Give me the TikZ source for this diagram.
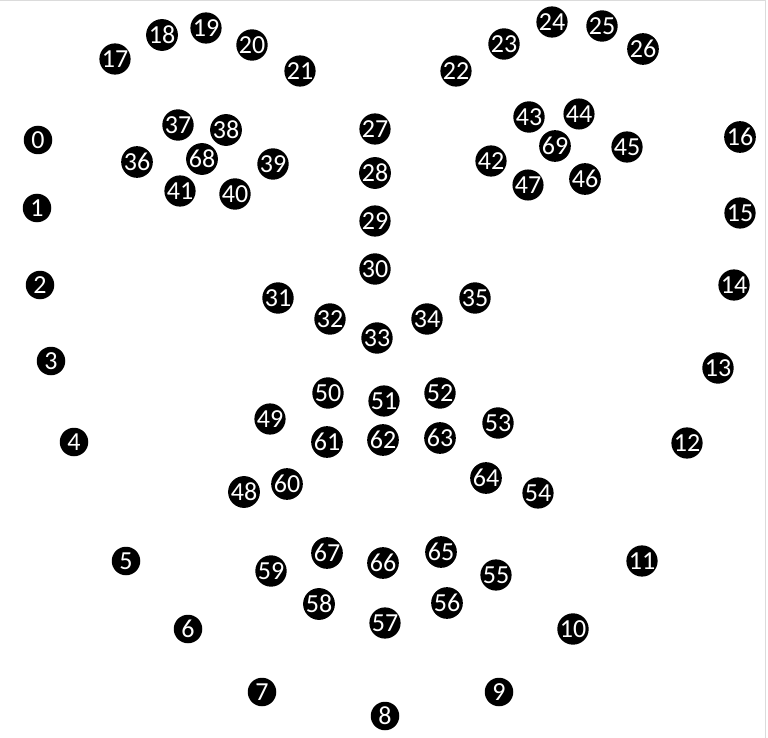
\documentclass[tikz,border=0pt]{standalone}
\usepackage{fontspec}
\setmainfont{Carlito}
\newcommand{\lmfont}{\fontsize{26}{26}\selectfont}
\begin{document}
\begin{tikzpicture}[x=1pt,y=-1pt,
  lm/.style={circle,fill=black,text=white,minimum size=28.5pt,inner sep=0pt}]
\useasboundingbox (0,0) rectangle (768,738);
\draw[black!14,line width=1pt] (0,0.5) -- (765.5,0.5) -- (765.5,738);
\foreach \n/\x/\y in {
 0/38/140, 1/37/208, 2/40/285, 3/51/361, 4/74/442, 5/126/561, 6/188/629,
 7/262/692, 8/385/716, 9/499/692, 10/573/629, 11/642/561, 12/687/443,
 13/718/368, 14/734/285, 15/740/213, 16/740/137,
 17/115/59, 18/162/35, 19/206/28, 20/252/45, 21/300/71,
 22/456/71, 23/504/44, 24/552/22, 25/602/26, 26/643/49,
 27/375/129, 28/375/173, 29/375/221, 30/375/269,
 31/278/298, 32/330/319, 33/377/338, 34/427/319, 35/475/298,
 36/137/162, 37/178/125, 38/226/130, 39/273/164, 40/235/194, 41/180/191,
 42/491/161, 43/529/117, 44/579/114, 45/627/147, 46/585/179, 47/528/185,
 48/244/492, 49/270/419, 50/328/393, 51/384/401, 52/440/393, 53/498/423,
 54/538/493, 55/496/575, 56/447/603, 57/385/623, 58/319/604, 59/271/571,
 60/287/484, 61/327/442, 62/383/440, 63/440/438, 64/486/478,
 65/441/552, 66/383/563, 67/327/553, 68/202/159, 69/555/146}
 \node[lm] (p\n) at (\x,\y) {\lmfont\n};
\end{tikzpicture}
\end{document}
